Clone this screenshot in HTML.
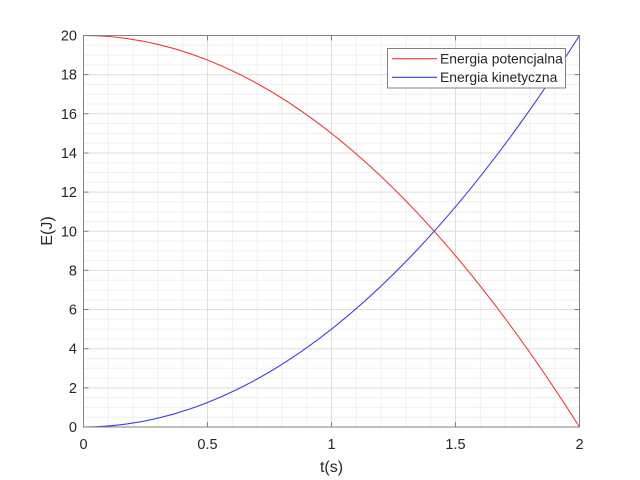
<!DOCTYPE html>
<html>
<head>
<meta charset="utf-8">
<style>
  html,body{margin:0;padding:0;background:#fff;}
  svg{display:block;}
  text{font-family:"Liberation Sans", Arial, sans-serif;fill:#262626;}
</style>
</head>
<body>
<svg width="640" height="480" viewBox="0 0 640 480" xmlns="http://www.w3.org/2000/svg">
  <rect x="0" y="0" width="640" height="480" fill="#ffffff"/>
  <!-- minor grid -->
  <path fill="none" stroke="#efefef" stroke-width="1"
    d="M108.3 35.5V427 M133.1 35.5V427 M157.9 35.5V427 M182.7 35.5V427
       M232.3 35.5V427 M257.1 35.5V427 M281.9 35.5V427 M306.7 35.5V427
       M356.3 35.5V427 M381.1 35.5V427 M405.9 35.5V427 M430.7 35.5V427
       M480.3 35.5V427 M505.1 35.5V427 M529.9 35.5V427 M554.7 35.5V427
       M83.5 417.2H579.5 M83.5 407.4H579.5 M83.5 397.6H579.5
       M83.5 378.1H579.5 M83.5 368.3H579.5 M83.5 358.5H579.5
       M83.5 338.9H579.5 M83.5 329.1H579.5 M83.5 319.3H579.5
       M83.5 299.8H579.5 M83.5 290.0H579.5 M83.5 280.2H579.5
       M83.5 260.6H579.5 M83.5 250.8H579.5 M83.5 241.0H579.5
       M83.5 221.5H579.5 M83.5 211.7H579.5 M83.5 201.9H579.5
       M83.5 182.3H579.5 M83.5 172.5H579.5 M83.5 162.7H579.5
       M83.5 143.2H579.5 M83.5 133.4H579.5 M83.5 123.6H579.5
       M83.5 104.0H579.5 M83.5 94.2H579.5 M83.5 84.4H579.5
       M83.5 64.9H579.5 M83.5 55.1H579.5 M83.5 45.3H579.5"/>
  <!-- major grid -->
  <path fill="none" stroke="#dedede" stroke-width="1"
    d="M207.5 35.5V427 M331.5 35.5V427 M455.5 35.5V427
       M83.5 387.85H579.5 M83.5 348.7H579.5 M83.5 309.55H579.5 M83.5 270.4H579.5
       M83.5 231.25H579.5 M83.5 192.1H579.5 M83.5 152.95H579.5 M83.5 113.8H579.5 M83.5 74.65H579.5"/>
  <!-- curves -->
  <path fill="none" stroke="#ee3a3a" stroke-width="1.1" d="M83.5 35.5 Q331.5 35.5 579.5 427"/>
  <path fill="none" stroke="#3a3aee" stroke-width="1.1" d="M83.5 427 Q331.5 427 579.5 35.5"/>
  <!-- axes box -->
  <rect x="83.5" y="35.5" width="496" height="391.5" fill="none" stroke="#808080" stroke-width="1"/>
  <!-- ticks -->
  <path fill="none" stroke="#808080" stroke-width="1"
    d="M207.5 427v-5 M331.5 427v-5 M455.5 427v-5
       M207.5 35.5v5 M331.5 35.5v5 M455.5 35.5v5
       M83.5 387.85h5 M83.5 348.7h5 M83.5 309.55h5 M83.5 270.4h5 M83.5 231.25h5
       M83.5 192.1h5 M83.5 152.95h5 M83.5 113.8h5 M83.5 74.65h5
       M579.5 387.85h-5 M579.5 348.7h-5 M579.5 309.55h-5 M579.5 270.4h-5 M579.5 231.25h-5
       M579.5 192.1h-5 M579.5 152.95h-5 M579.5 113.8h-5 M579.5 74.65h-5"/>
  <!-- x tick labels -->
  <g font-size="14.5" text-anchor="middle">
    <text x="83.5" y="449">0</text>
    <text x="207.5" y="449">0.5</text>
    <text x="331.5" y="449">1</text>
    <text x="455.5" y="449">1.5</text>
    <text x="579.5" y="449">2</text>
  </g>
  <!-- y tick labels -->
  <g font-size="14.5" text-anchor="end">
    <text x="77" y="432">0</text>
    <text x="77" y="392.85">2</text>
    <text x="77" y="353.7">4</text>
    <text x="77" y="314.55">6</text>
    <text x="77" y="275.4">8</text>
    <text x="77" y="236.25">10</text>
    <text x="77" y="197.1">12</text>
    <text x="77" y="157.95">14</text>
    <text x="77" y="118.8">16</text>
    <text x="77" y="79.65">18</text>
    <text x="77" y="40.5">20</text>
  </g>
  <!-- axis labels -->
  <text x="331.5" y="472" font-size="16" text-anchor="middle">t(s)</text>
  <text transform="translate(52,231) rotate(-90)" font-size="16" text-anchor="middle">E(J)</text>
  <!-- legend -->
  <rect x="387.5" y="48.5" width="178" height="39.5" fill="#ffffff" stroke="#808080" stroke-width="1"/>
  <line x1="392" y1="58.7" x2="437" y2="58.7" stroke="#ee3a3a" stroke-width="1.1"/>
  <line x1="392" y1="77.3" x2="437" y2="77.3" stroke="#3a3aee" stroke-width="1.1"/>
  <text x="440" y="63.5" font-size="13.9">Energia potencjalna</text>
  <text x="440" y="82" font-size="13.9">Energia kinetyczna</text>
</svg>
</body>
</html>
